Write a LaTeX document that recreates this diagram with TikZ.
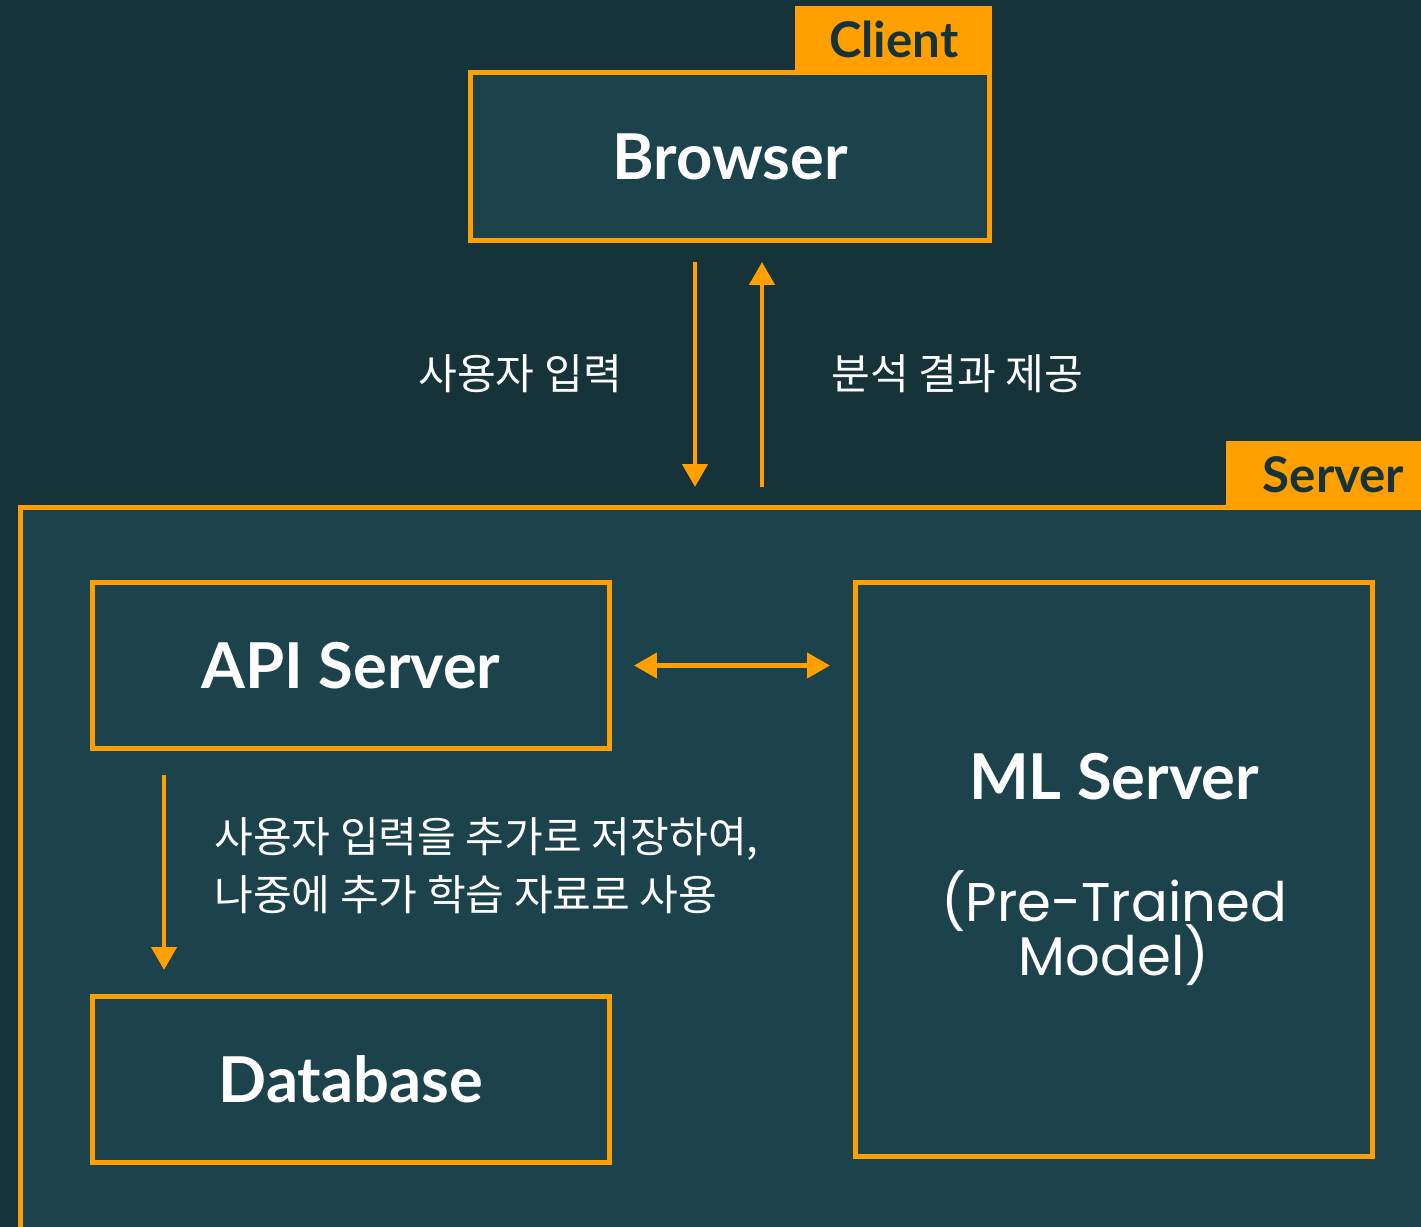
\documentclass[tikz,border=0pt]{standalone}
\usepackage{fontspec}
\setmainfont{Lato}
\newfontfamily\kofont{Noto Sans CJK KR}
\newfontfamily\thinfont{Poppins}
\usetikzlibrary{positioning,arrows.meta}
\definecolor{bgdark}{HTML}{17333A}
\definecolor{boxfill}{HTML}{1C424B}
\definecolor{accent}{HTML}{FFA000}
\tikzset{
  blockbox/.style={draw=accent, fill=boxfill, line width=3.1pt, text=white,
    font=\bfseries\fontsize{36}{42}\selectfont, outer sep=0pt,
    minimum width=10.34cm, minimum height=3.32cm, inner sep=0pt},
  tabbox/.style={fill=accent, text=bgdark, inner sep=0pt, outer sep=0pt,
    font=\bfseries\fontsize{28}{32}\selectfont,
    minimum height=1.33cm},
  flow/.style={accent, line width=2.8pt},
  note/.style={text=white, font=\kofont\fontsize{24}{33}\selectfont},
  >={Triangle[width=14pt,length=13pt]}
}

\begin{document}
\begin{tikzpicture}[x=0.02cm,y=-0.02cm]
	% Canvas
	\fill[bgdark] (0,0) rectangle (1421,1227);
	\clip (0,0) rectangle (1421,1227);
	\useasboundingbox (0,0) rectangle (1421,1227);

	% Client side
	\node[blockbox, minimum width=10.38cm, minimum height=3.36cm] (B) at (730,156.5) {Browser};
	\node[tabbox, minimum width=3.94cm, anchor=south east] (Btab) at ([xshift=1.55pt]B.north east) {Client};

	% Server side
	\node[draw=accent, fill=boxfill, line width=3.1pt, outer sep=0pt, minimum width=30cm, minimum height=16cm,
	      anchor=north west] (S) at (20.5,507.5) {};
	\node[tabbox, minimum width=4.3cm, anchor=south west] (Stab) at (1226,507.5) {Server};

	\node[blockbox] (API) at (351,665.5) {API Server};
	\node[blockbox] (DB)  at (351,1079.5) {Database};
	\node[blockbox, minimum height=11.48cm] (ML) at (1114,869.5) {};
	\node[text=white, font=\bfseries\fontsize{36}{42}\selectfont] (mlname) at (1114,777) {ML Server};
	\node[text=white, font=\thinfont\fontsize{31}{33}\selectfont, align=center, below=1.15cm of mlname] (mlsub) {(Pre-Trained\\[-5pt]Model)};

	% Arrows
	\draw[flow, ->, shorten <=0.43cm, shorten >=0.41cm] ([xshift=-0.7cm]B.south) -- ([xshift=-0.7cm]B.south |- S.north);
	\draw[flow, ->, shorten <=0.41cm, shorten >=0.43cm] ([xshift=0.64cm]B.south |- S.north) -- ([xshift=0.64cm]B.south);
	\draw[flow, <->, shorten <=0.49cm, shorten >=0.51cm] (API.east) -- (API.east -| ML.west);
	\draw[flow, ->, shorten <=0.53cm, shorten >=0.53cm] ([xshift=1.43cm]API.south west) -- ([xshift=1.43cm]API.south west |- DB.north);

	% Labels
	\node[note, anchor=east] (inlabel) at (628,374) {사용자 입력};
	\node[note, anchor=west] (outlabel) at (825,374) {분석 결과 제공};
	\node[note, anchor=west, align=left] (dblabel) at (208,866) {사용자 입력을 추가로 저장하여,\\나중에 추가 학습 자료로 사용};
\end{tikzpicture}
\end{document}
